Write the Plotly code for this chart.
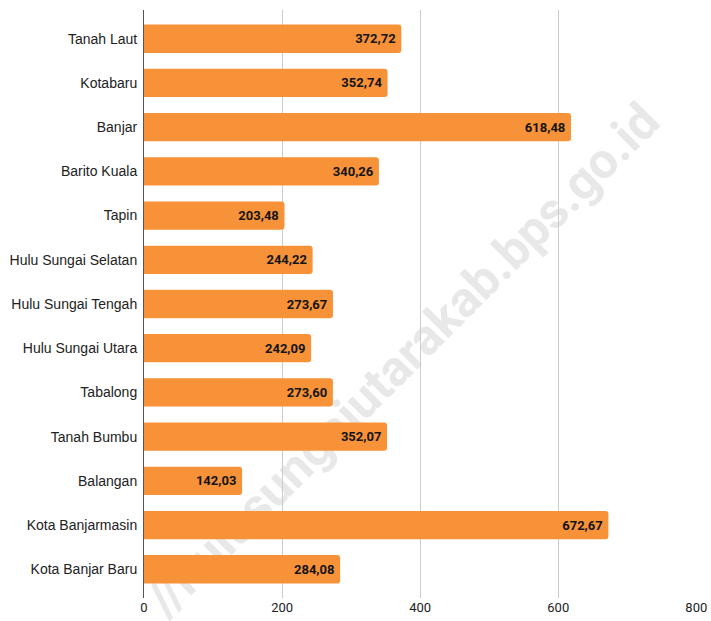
import plotly.graph_objects as go

regions = ["Tanah Laut", "Kotabaru", "Banjar", "Barito Kuala", "Tapin",
           "Hulu Sungai Selatan", "Hulu Sungai Tengah", "Hulu Sungai Utara",
           "Tabalong", "Tanah Bumbu", "Balangan", "Kota Banjarmasin", "Kota Banjar Baru"]
values = [372.72, 352.74, 618.48, 340.26, 203.48, 244.22, 273.67, 242.09,
          273.60, 352.07, 142.03, 672.67, 284.08]
x_ticks = [0, 200, 400, 600, 800]
watermark = "//hulusungaiutarakab.bps.go.id"

labels = [f"{v:.2f}".replace(".", ",") + "\u2009" for v in values]

fig = go.Figure(go.Bar(
    y=regions, x=values, orientation="h",
    marker=dict(color="#F79239", cornerradius=3, line=dict(width=0)),
    text=labels, textposition="inside", insidetextanchor="end",
    textfont=dict(family="Roboto", size=13, color="#141414", weight="bold"),
    width=0.64,
))

fig.add_shape(
    type="rect", xref="paper", yref="paper",
    x0=0.363, x1=0.563, y0=0.31, y1=0.51,
    line=dict(width=0), fillcolor="rgba(0,0,0,0)", layer="below",
    label=dict(text=watermark, textangle=-45, textposition="middle center",
               font=dict(family="Roboto", size=50, color="#e8e8e8", weight="bold")),
)

fig.update_layout(
    width=711, height=621,
    margin=dict(l=144, r=14, t=10, b=23),
    plot_bgcolor="white", paper_bgcolor="white",
    showlegend=False,
    xaxis=dict(range=[0, 801], tickvals=x_ticks, ticktext=[str(t) for t in x_ticks],
               showgrid=True, gridcolor="#cccccc", gridwidth=1, zeroline=False,
               tickfont=dict(family="Roboto", size=13, color="#222222"),
               ticks="", automargin=False),
    yaxis=dict(range=[12.65, -0.65], categoryorder="array", categoryarray=regions,
               showline=True, linecolor="#555555", linewidth=1, ticks="",
               showgrid=False, zeroline=False, ticklabelstandoff=3, automargin=False,
               tickfont=dict(family="Liberation Sans", size=14, color="#222222")),
)
fig.write_html("out.html", config={"displayModeBar": False},
               post_script="document.body.style.margin='0';")
